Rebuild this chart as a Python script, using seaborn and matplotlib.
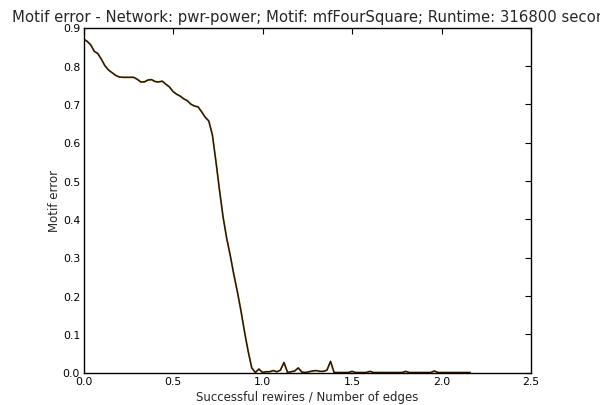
import matplotlib
matplotlib.use("Agg")
import matplotlib.pyplot as plt
import seaborn as sns
import pandas as pd

# Motif error as the network is rewired (x = successful rewires / number of edges)
rewire_ratio = [
    0.00, 0.02, 0.04, 0.06, 0.08, 0.10, 0.12, 0.14, 0.16, 0.18,
    0.20, 0.22, 0.24, 0.26, 0.28, 0.30, 0.32, 0.34, 0.36, 0.38,
    0.40, 0.42, 0.44, 0.46, 0.48, 0.50, 0.52, 0.54, 0.56, 0.58,
    0.60, 0.62, 0.64, 0.66, 0.68, 0.70, 0.72, 0.74, 0.76, 0.78,
    0.80, 0.82, 0.84, 0.86, 0.88, 0.90, 0.92, 0.94, 0.96, 0.98,
    1.00, 1.02, 1.04, 1.06, 1.08, 1.10, 1.12, 1.14, 1.16, 1.18,
    1.20, 1.22, 1.24, 1.26, 1.28, 1.30, 1.32, 1.34, 1.36, 1.38,
    1.40, 1.42, 1.44, 1.46, 1.48, 1.50, 1.52, 1.54, 1.56, 1.58,
    1.60, 1.62, 1.64, 1.66, 1.68, 1.70, 1.72, 1.74, 1.76, 1.78,
    1.80, 1.82, 1.84, 1.86, 1.88, 1.90, 1.92, 1.94, 1.96, 1.98,
    2.00, 2.02, 2.04, 2.06, 2.08, 2.10, 2.12, 2.14, 2.16,
]
motif_error = [
    0.870, 0.864, 0.855, 0.838, 0.832, 0.817, 0.800, 0.789, 0.782, 0.775,
    0.771, 0.770, 0.770, 0.770, 0.770, 0.765, 0.758, 0.758, 0.763, 0.764,
    0.759, 0.758, 0.760, 0.752, 0.745, 0.733, 0.726, 0.721, 0.714, 0.709,
    0.700, 0.695, 0.693, 0.680, 0.666, 0.656, 0.620, 0.550, 0.475, 0.405,
    0.350, 0.305, 0.255, 0.210, 0.160, 0.105, 0.055, 0.012, 0.000, 0.009,
    0.000, 0.002, 0.002, 0.005, 0.002, 0.006, 0.026, 0.000, 0.002, 0.004,
    0.012, 0.001, 0.000, 0.002, 0.004, 0.005, 0.003, 0.003, 0.006, 0.029,
    0.000, 0.000, 0.000, 0.000, 0.000, 0.003, 0.000, 0.000, 0.000, 0.000,
    0.003, 0.000, 0.000, 0.000, 0.000, 0.000, 0.000, 0.000, 0.000, 0.000,
    0.003, 0.000, 0.000, 0.000, 0.000, 0.000, 0.000, 0.000, 0.004, 0.000,
    0.000, 0.000, 0.000, 0.000, 0.000, 0.000, 0.000, 0.000, 0.000,
]

x_ticks = [0.0, 0.5, 1.0, 1.5, 2.0, 2.5]
y_ticks = [0.0, 0.1, 0.2, 0.3, 0.4, 0.5, 0.6, 0.7, 0.8, 0.9]

title = "Motif error - Network: pwr-power; Motif: mfFourSquare; Runtime: 316800 seconds"

sns.set_style("white")
plt.rcParams["font.family"] = ["DejaVu Sans"]

df = pd.DataFrame({"ratio": rewire_ratio, "error": motif_error})

fig = plt.figure(figsize=(6.0, 4.06), dpi=100)
ax = fig.add_axes([83.5 / 600, 1 - 373.5 / 406, 447.5 / 600, 345 / 406])

sns.lineplot(data=df, x="ratio", y="error", ax=ax, color="#8a5a1c", linewidth=1.3)
sns.lineplot(data=df, x="ratio", y="error", ax=ax, color="#1a1208", linewidth=0.8)

ax.set_xlim(0, 2.5)
ax.set_ylim(0, 0.9)
ax.set_xticks(x_ticks)
ax.set_yticks(y_ticks)
ax.set_xticklabels([f"{v:.1f}" for v in x_ticks])
ax.set_yticklabels([f"{v:.1f}" for v in y_ticks])
ax.tick_params(direction="in", length=4, width=0.8, top=True, right=True,
               labelsize=7.8, colors="black", pad=2.5)
for side in ax.spines.values():
    side.set_color("black")
    side.set_linewidth(1.0)

ax.set_xlabel("Successful rewires / Number of edges", fontsize=8.5, labelpad=3)
ax.set_ylabel("Motif error", fontsize=8.5, labelpad=1)

# The long title runs past the right edge of the figure
fig.text(12 / 600, 1 - 22 / 406, title, fontsize=10.7, ha="left", va="baseline")

fig.savefig("out.png", dpi=100)
